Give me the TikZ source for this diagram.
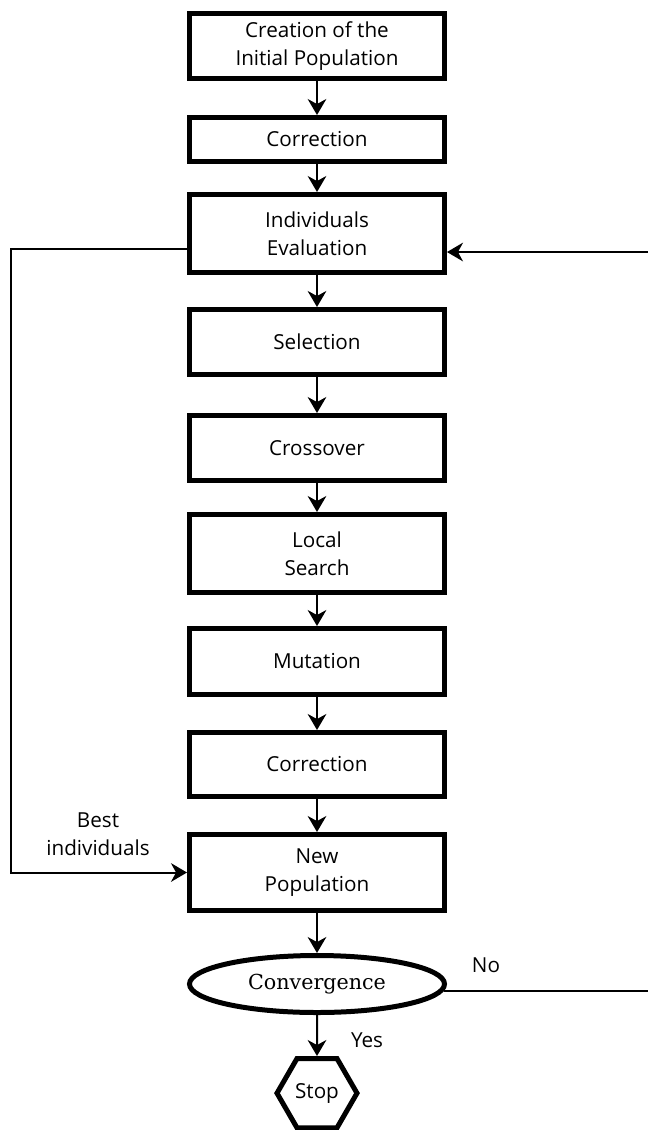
\documentclass[tikz,border=0pt]{standalone}
\usepackage{fontspec}
\newfontfamily\boxfont{Open Sans}
\newfontfamily\convfont{DejaVu Serif}
\usetikzlibrary{shapes,arrows.meta,positioning}
\tikzset{stage node/.style={rectangle,draw,line width=3.75pt,minimum width=191.25pt,minimum height=48.75pt,inner sep=2pt,align=center,font={\boxfont\fontsize{15.5}{21}\selectfont}},
	flow/.style={draw,line width=1.5pt,-{Stealth[length=12pt,width=14pt,inset=3.8pt]}},
	note/.style={align=center,inner sep=1pt,font={\boxfont\fontsize{15.5}{21}\selectfont}},
}
\tikzstyle{convnode}=[ellipse,draw,line width=3.75pt,minimum width=191.25pt,minimum height=42.75pt,inner sep=1pt,font={\convfont\fontsize{15.5}{19}\selectfont}]
\tikzstyle{stopnode}=[regular polygon,regular polygon sides=6,draw,line width=3.75pt,minimum size=60pt,inner sep=1pt,font={\boxfont\fontsize{15.5}{21}\selectfont}]

\begin{document}
\begin{tikzpicture}[x=0.75pt,y=-0.75pt]
	\useasboundingbox (0,0) rectangle (648,1130);
	\node[stage node] (init) at (317,46) {Creation of the\\Initial Population};
	\node[stage node,minimum height=33pt] (corr1) [below=25.5pt of init] {Correction};
	\node[stage node,minimum height=58.5pt] (eval) [below=21pt of corr1] {Individuals\\Evaluation};
	\node[stage node] (sel) [below=24pt of eval] {Selection};
	\node[stage node] (cross) [below=27pt of sel] {Crossover};
	\node[stage node,minimum height=58.5pt] (local) [below=21.75pt of cross] {Local\\Search};
	\node[stage node,minimum height=49.5pt] (mut) [below=23.25pt of local] {Mutation};
	\node[stage node,minimum height=48pt] (corr2) [below=24.75pt of mut] {Correction};
	\node[stage node,minimum height=57pt] (newpop) [below=24.75pt of corr2] {New\\Population};
	\node[convnode] (conv) [below=30pt of newpop] {Convergence};
	\node[stopnode] (stop) [below=30.75pt of conv] {Stop};
	
	\node[note] (best) at (98,834) {Best\\individuals};
	\node[note] (no) at (486,965) {No};
	\node[note] (yes) at (367,1040) {Yes};
	
	\coordinate (lrail) at (11,500);
	\coordinate (rrail) at (650,600);
	
	\path[flow]
	(init) edge (corr1)
	(corr1) edge (eval)
	(eval) edge (sel)
	(sel) edge (cross)
	(cross) edge (local)
	(local) edge (mut)
	(mut) edge (corr2)
	(corr2) edge (newpop)
	(newpop) edge (conv)
	(conv) edge (stop)
	;
	\draw[flow] ([yshift=-11.6pt]eval.west) -| (lrail) |- (newpop.west);
	\draw[flow] (conv.-3.6) -| (rrail) |- ([yshift=-13.9pt]eval.east);
\end{tikzpicture}
\end{document}
